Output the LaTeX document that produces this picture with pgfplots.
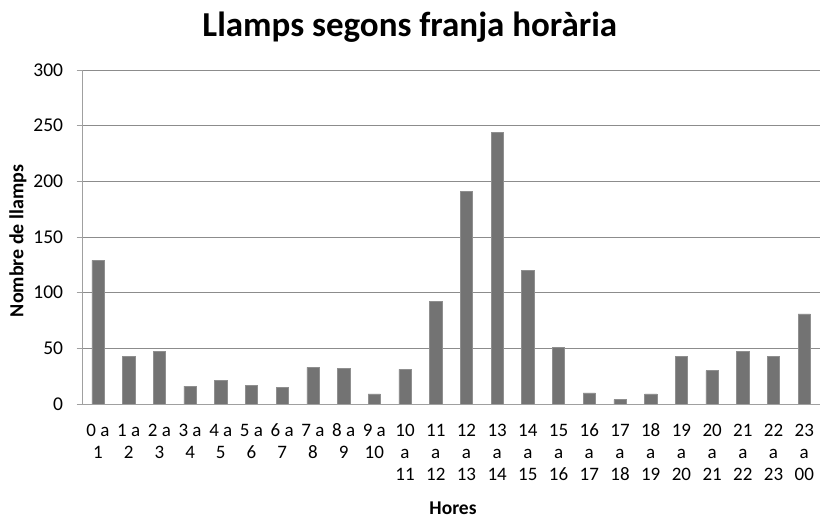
\documentclass[border=0pt]{standalone}
\usepackage{fontspec}
\setmainfont{Carlito}
\usepackage{pgfplots}
\pgfplotsset{compat=1.18}
\definecolor{barc}{HTML}{737373}
\definecolor{gridc}{HTML}{8C8C8C}
\definecolor{axc}{HTML}{A0A0A0}
\begin{document}
\begin{tikzpicture}
\useasboundingbox (-82.6pt,-114pt) rectangle (738.4pt,404pt);
\begin{axis}[
  at={(0pt,0pt)}, anchor=south west,
  scale only axis,
  width=737pt, height=334pt,
  xmin=-0.5, xmax=23.5,
  ymin=0, ymax=300,
  ytick={0,50,...,300},
  xtick={0,...,23},
  xticklabels={{\strut 0 a\\1},{\strut 1 a\\2},{\strut 2 a\\3},{\strut 3 a\\4},{\strut 4 a\\5},{\strut 5 a\\6},{\strut 6 a\\7},{\strut 7 a\\8},{\strut 8 a\\9},{\strut 9 a\\10},{\strut 10\\a\\11},{\strut 11\\a\\12},{\strut 12\\a\\13},{\strut 13\\a\\14},{\strut 14\\a\\15},{\strut 15\\a\\16},{\strut 16\\a\\17},{\strut 17\\a\\18},{\strut 18\\a\\19},{\strut 19\\a\\20},{\strut 20\\a\\21},{\strut 21\\a\\22},{\strut 22\\a\\23},{\strut 23\\a\\00}},
  x tick label style={font=\fontsize{19}{22.3}\selectfont, align=center, anchor=north, yshift=-7pt},
  y tick label style={font=\fontsize{19.5}{22}\selectfont, anchor=east, xshift=-10pt},
  /pgf/number format/assume math mode=true,
  major x tick style={draw=none},
  ytick pos=left,
  tick align=outside,
  major tick length=6pt,
  major y tick style={draw=axc, line width=0.8pt},
  ymajorgrids,
  major grid style={draw=gridc, line width=0.9pt},
  axis line style={draw=axc, line width=0.9pt},
  axis x line*=bottom,
  axis y line*=left,
  ybar, bar width=12.3pt,
  title={Llamps segons franja horària},
  title style={font=\bfseries\fontsize{35}{42}\selectfont, at={(axis description cs:0.444,1.109)}, anchor=center},
  xlabel={Hores},
  xlabel style={font=\bfseries\fontsize{19.5}{22}\selectfont, at={(axis description cs:0.5026,-0.311)}, anchor=center},
  ylabel={Nombre de llamps},
  ylabel style={font=\bfseries\fontsize{20}{22}\selectfont, at={(axis description cs:-0.0877,0.488)}, anchor=center},
]
\addplot[fill=barc, draw=barc!80!white, line width=0.5pt] coordinates {
(0,129) (1,43) (2,47) (3,16) (4,21) (5,17) (6,15) (7,33) (8,32) (9,9) (10,31) (11,92)
(12,191) (13,244) (14,120) (15,51) (16,10) (17,4) (18,9) (19,43) (20,30) (21,47) (22,43) (23,81)};
\end{axis}
\end{tikzpicture}
\end{document}
